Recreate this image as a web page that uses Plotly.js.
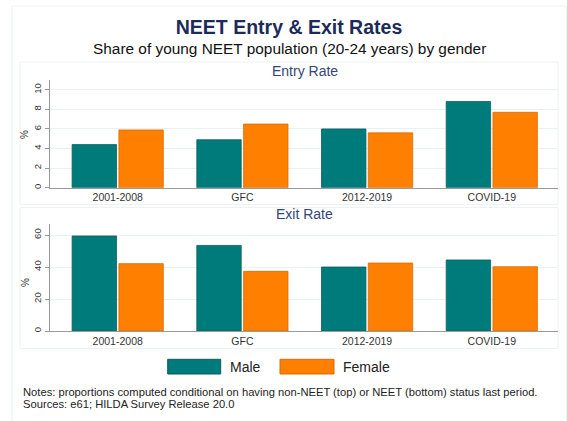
<!DOCTYPE html>
<html>
<head>
<meta charset="utf-8">
<script src="https://cdn.plot.ly/plotly-3.0.1.min.js"></script>
<style>html,body{margin:0;padding:0;background:#fff;}#chart{width:567px;height:421px;}</style>
</head>
<body>
<div id="chart"></div>
<script>
var categories = ['2001-2008', 'GFC', '2012-2019', 'COVID-19'];
var entryMale = [4.4, 4.9, 6.0, 8.8];
var entryFemale = [5.9, 6.5, 5.6, 7.7];
var exitMale = [59.4, 53.5, 40.0, 44.4];
var exitFemale = [42.1, 37.3, 42.5, 40.2];
var seriesNames = ['Male', 'Female'];

var W = 567, H = 421;
function px(x) { return x / W; }
function py(y) { return 1 - y / H; }

var maleColor = '#007b7b';
var femaleColor = '#ff7f00';
var FONT = 'Liberation Sans, Arial, sans-serif';

function bar(y, name, color, xa, ya) {
  return {
    type: 'bar', x: categories, y: y, name: name,
    xaxis: xa, yaxis: ya, showlegend: false,
    marker: { color: color, line: { color: color === maleColor ? '#0a5f5f' : '#d96c08', width: 0.8 } },
    hoverinfo: 'x+y+name'
  };
}

var data = [
  bar(entryMale, seriesNames[0], maleColor, 'x', 'y'),
  bar(entryFemale, seriesNames[1], femaleColor, 'x', 'y'),
  bar(exitMale, seriesNames[0], maleColor, 'x2', 'y2'),
  bar(exitFemale, seriesNames[1], femaleColor, 'x2', 'y2')
];

var xBase = {
  type: 'category', domain: [px(50), px(558)], range: [-0.543, 3.531],
  showline: true, linecolor: '#9a9a9a', linewidth: 1, ticks: '',
  showgrid: false, zeroline: false,
  tickfont: { family: FONT, size: 10.5, color: '#333' }, fixedrange: true
};
var yBase = {
  showline: true, linecolor: '#9a9a9a', linewidth: 1,
  ticks: 'outside', ticklen: 4, tickcolor: '#9a9a9a', tickangle: -90,
  showgrid: true, gridcolor: '#e8f0f2', gridwidth: 1, zeroline: false,
  tickfont: { family: FONT, size: 9.5, color: '#333' }, fixedrange: true
};

var xaxis = Object.assign({}, xBase, { anchor: 'y' });
var xaxis2 = Object.assign({}, xBase, { anchor: 'y2' });
var yaxis = Object.assign({}, yBase, { domain: [py(187.7), py(80)], range: [0, 11], dtick: 2, tick0: 0, anchor: 'x' });
var yaxis2 = Object.assign({}, yBase, { domain: [py(331), py(224.3)], range: [0, 66.7], dtick: 20, tick0: 0, anchor: 'x2' });

function ann(text, x, y, size, color, xanchor, extra) {
  return Object.assign({
    text: text, xref: 'paper', yref: 'paper', x: px(x), y: py(y),
    xanchor: xanchor || 'center', yanchor: 'middle', showarrow: false,
    font: { family: FONT, size: size, color: color }
  }, extra || {});
}

var annotations = [
  ann('Share of young NEET population (20-24 years) by gender', 289, 48, 15.4, '#111'),
  ann('Entry Rate', 304.5, 70.5, 14, '#34467a'),
  ann('Exit Rate', 304, 214, 14, '#34467a'),
  ann('%', 25, 135, 10, '#333', 'center', { textangle: -90 }),
  ann('%', 25, 283, 10, '#333', 'center', { textangle: -90 }),
  ann(seriesNames[0], 228, 367, 14, '#222', 'left'),
  ann(seriesNames[1], 341, 367, 14, '#222', 'left'),
  ann('Notes: proportions computed conditional on having non-NEET (top) or NEET (bottom) status last period.', 21, 392, 11.2, '#222', 'left'),
  ann('Sources: e61; HILDA Survey Release 20.0', 21, 404, 11.2, '#222', 'left')
];

function rect(x0, y0, x1, y1, line, fill) {
  return { type: 'rect', xref: 'paper', yref: 'paper', x0: px(x0), x1: px(x1), y0: py(y1), y1: py(y0),
    line: { color: line, width: 1 }, fillcolor: fill || 'rgba(0,0,0,0)', layer: 'below' };
}

var shapes = [
  rect(12, 6, 566.5, 430, '#edf2f4'),
  rect(20, 62, 558, 204.5, '#edf2f4'),
  rect(20, 207.5, 558, 348.5, '#edf2f4'),
  { type: 'rect', xref: 'paper', yref: 'paper', x0: px(167.7), x1: px(220.7), y0: py(374), y1: py(359.3),
    line: { color: '#0a5f5f', width: 1 }, fillcolor: maleColor, layer: 'above' },
  { type: 'rect', xref: 'paper', yref: 'paper', x0: px(280), x1: px(334), y0: py(374), y1: py(359.3),
    line: { color: '#d96c08', width: 1 }, fillcolor: femaleColor, layer: 'above' }
];

var layout = {
  width: W, height: H,
  margin: { l: 0, r: 0, t: 0, b: 0, pad: 0 },
  paper_bgcolor: '#ffffff', plot_bgcolor: 'rgba(0,0,0,0)',
  title: { text: '<b>NEET Entry &amp; Exit Rates</b>', x: px(289), y: py(27), xref: 'paper', yref: 'paper',
    xanchor: 'center', yanchor: 'middle', font: { family: FONT, size: 19.5, color: '#1c2b5a' } },
  barmode: 'group', bargap: 0.25, bargroupgap: 0.05,
  showlegend: false,
  xaxis: xaxis, yaxis: yaxis, xaxis2: xaxis2, yaxis2: yaxis2,
  annotations: annotations, shapes: shapes
};

Plotly.newPlot('chart', data, layout, { displayModeBar: false, staticPlot: true });
</script>
</body>
</html>
